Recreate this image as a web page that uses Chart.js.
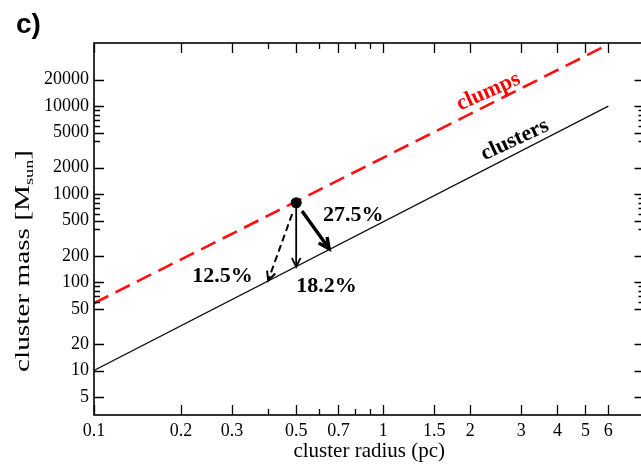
<!DOCTYPE html>
<html><head><meta charset="utf-8">
<script src="https://cdn.jsdelivr.net/npm/chart.js@4/dist/chart.umd.min.js"></script>
<style>
html,body{margin:0;padding:0;background:#fff;overflow:hidden;width:641px;height:464px;}
#wrap{position:relative;width:650px;height:464px;}
</style></head><body>
<div id="wrap"><canvas id="c" width="650" height="464"></canvas></div>
<script>
// ---- data ----
const xLabelTicks = [0.1, 0.2, 0.3, 0.5, 0.7, 1, 1.5, 2, 3, 4, 5, 6];
const xMinorTicks = [0.4, 0.6, 0.8, 0.9];
const yLabelTicks = [5, 10, 20, 50, 100, 200, 500, 1000, 2000, 5000, 10000, 20000];
const yMinorTicks = [60, 70, 80, 90, 400, 600, 700, 800, 900, 4000, 6000, 7000, 8000, 9000];
const clustersX = [0.1, 6];
const clustersY = [10, 10000];
const clumpsX = [0.1, 6];
const clumpsY = [58, 50000];
const startX = [0.5];
const startY = [800];
const arrowToX = [0.4, 0.5, 0.65];
const arrowToY = [105, 150, 240];
const arrowLabels = ['12.5%', '18.2%', '27.5%'];
const lineLabels = ['clumps', 'clusters'];

// ---- drawing helpers (styles / placement) ----
const serif = "'Liberation Serif', 'DejaVu Serif', serif";
const arrowStyles = [
  {dash: [7, 4], width: 2, head: 10, startGap: 12},
  {dash: [], width: 1.8, head: 10, startGap: 0},
  {dash: [], width: 3.4, head: 12, startGap: 10}
];
const arrowLabelPos = [[0.278, 116], [0.637, 91], [0.787, 582]];
const lineLabelPos = [[2.31, 14550, -24, '#ff0000'], [2.85, 4120, -25, '#000000']];

const framePlugin = {
  id: 'frame',
  beforeDatasetsDraw(chart) {
    const {ctx, chartArea: a, scales: {x, y}} = chart;
    ctx.save();
    // arrows (drawn beneath the start point)
    const x0 = x.getPixelForValue(startX[0]);
    const y0 = y.getPixelForValue(startY[0]);
    arrowToX.forEach((tv, i) => {
      const st = arrowStyles[i];
      const x1 = x.getPixelForValue(tv);
      const y1 = y.getPixelForValue(arrowToY[i]);
      const ang = Math.atan2(y1 - y0, x1 - x0);
      const sx = x0 + Math.cos(ang) * st.startGap;
      const sy = y0 + Math.sin(ang) * st.startGap;
      ctx.strokeStyle = '#000';
      ctx.lineWidth = st.width;
      ctx.setLineDash(st.dash);
      ctx.beginPath(); ctx.moveTo(sx, sy); ctx.lineTo(x1, y1); ctx.stroke();
      ctx.setLineDash([]);
      const h = st.head, spread = 0.45;
      ctx.beginPath();
      ctx.moveTo(x1 - h * Math.cos(ang - spread), y1 - h * Math.sin(ang - spread));
      ctx.lineTo(x1, y1);
      ctx.lineTo(x1 - h * Math.cos(ang + spread), y1 - h * Math.sin(ang + spread));
      ctx.stroke();
    });
    ctx.restore();
  },
  afterDatasetsDraw(chart) {
    const {ctx, chartArea: a, scales: {x, y}} = chart;
    ctx.save();
    ctx.strokeStyle = '#000';
    ctx.lineWidth = 1.6;
    ctx.strokeRect(a.left, a.top, a.right - a.left, a.bottom - a.top);
    ctx.lineWidth = 1.3;
    const tick = (vals, len) => {
      vals.forEach(v => {
        const px = Math.round(x.getPixelForValue(v)) + 0.5;
        ctx.beginPath();
        ctx.moveTo(px, a.bottom); ctx.lineTo(px, a.bottom - len);
        ctx.moveTo(px, a.top); ctx.lineTo(px, a.top + len);
        ctx.stroke();
      });
    };
    const ytick = (vals, len) => {
      vals.forEach(v => {
        const py = Math.round(y.getPixelForValue(v)) + 0.5;
        ctx.beginPath();
        ctx.moveTo(a.left, py); ctx.lineTo(a.left + len, py);
        ctx.moveTo(a.right, py); ctx.lineTo(a.right - len, py);
        ctx.stroke();
      });
    };
    tick(xLabelTicks, 10); tick(xMinorTicks, 6);
    ytick(yLabelTicks, 10); ytick(yMinorTicks, 6);

    // labels
    ctx.fillStyle = '#000';
    ctx.font = 'bold 22px ' + serif;
    ctx.textAlign = 'center';
    ctx.textBaseline = 'middle';
    arrowLabels.forEach((t, i) => {
      ctx.fillText(t, x.getPixelForValue(arrowLabelPos[i][0]), y.getPixelForValue(arrowLabelPos[i][1]));
    });
    lineLabels.forEach((t, i) => {
      const p = lineLabelPos[i];
      ctx.save();
      ctx.translate(x.getPixelForValue(p[0]), y.getPixelForValue(p[1]));
      ctx.rotate(p[2] * Math.PI / 180);
      ctx.fillStyle = p[3];
      ctx.font = 'bold 22px ' + serif;
      ctx.fillText(t, 0, 0);
      ctx.restore();
    });
    ctx.restore();
  },
  afterDraw(chart) {
    const {ctx, chartArea: a} = chart;
    ctx.save();
    // panel letter
    ctx.fillStyle = '#000';
    ctx.font = "bold 28px 'Liberation Sans', Arial, sans-serif";
    ctx.textAlign = 'left';
    ctx.textBaseline = 'alphabetic';
    ctx.fillText('c)', 16, 33);
    // y axis title with subscript
    ctx.translate(29, (a.top + a.bottom) / 2 + 32);
    ctx.rotate(-Math.PI / 2);
    const main = 'cluster mass [M', sub = 'sun', end = ']';
    ctx.font = '21px ' + serif;
    const w1 = ctx.measureText(main).width, w3 = ctx.measureText(end).width;
    ctx.font = '13px ' + serif;
    const w2 = ctx.measureText(sub).width;
    const total = w1 + w2 + w3;
    ctx.scale(222 / total, 1);
    let cx = -total / 2;
    ctx.textBaseline = 'alphabetic';
    ctx.font = '21px ' + serif;
    ctx.fillText(main, cx, 0); cx += w1;
    ctx.font = '13px ' + serif;
    ctx.fillText(sub, cx, 4); cx += w2;
    ctx.font = '21px ' + serif;
    ctx.fillText(end, cx, 0);
    ctx.restore();
  }
};

new Chart(document.getElementById('c'), {
  type: 'line',
  data: {
    datasets: [
      {label: 'clumps', data: clumpsX.map((v, i) => ({x: v, y: clumpsY[i]})),
       borderColor: '#ff1010', borderWidth: 2.6, borderDash: [16, 8], pointRadius: 0, fill: false, order: 3},
      {label: 'clusters', data: clustersX.map((v, i) => ({x: v, y: clustersY[i]})),
       borderColor: '#111', borderWidth: 1.3, pointRadius: 0, fill: false, order: 2},
      {label: 'start', data: startX.map((v, i) => ({x: v, y: startY[i]})),
       showLine: false, pointRadius: 5.5, pointBorderWidth: 0, pointBackgroundColor: '#000', pointBorderColor: '#000', clip: false, order: 1}
    ]
  },
  options: {
    responsive: false, animation: false, devicePixelRatio: 1,
    layout: {padding: {top: 43, right: 4, left: 0, bottom: 0}},
    plugins: {legend: {display: false}, tooltip: {enabled: false}},
    scales: {
      x: {
        type: 'logarithmic', min: 0.1, max: 8,
        grid: {display: false, drawTicks: false}, border: {display: false},
        afterBuildTicks: s => { s.ticks = xLabelTicks.map(v => ({value: v})); },
        afterFit: s => { s.height = 49; },
        ticks: {autoSkip: false, maxRotation: 0, padding: 5, color: '#000',
                font: {family: serif, size: 18}, callback: v => String(v)},
        title: {display: true, text: 'cluster radius (pc)', color: '#000',
                font: {family: serif, size: 21}, padding: {top: 0, bottom: 0}}
      },
      y: {
        type: 'logarithmic', min: 3.13, max: 51900,
        grid: {display: false, drawTicks: false}, border: {display: false},
        afterBuildTicks: s => { s.ticks = yLabelTicks.map(v => ({value: v})); },
        afterFit: s => { s.width = 94; },
        ticks: {autoSkip: false, padding: 5, color: '#000',
                font: {family: serif, size: 18}, callback: v => String(v)},
        title: {display: false}
      }
    }
  },
  plugins: [framePlugin]
});
</script>
</body></html>
